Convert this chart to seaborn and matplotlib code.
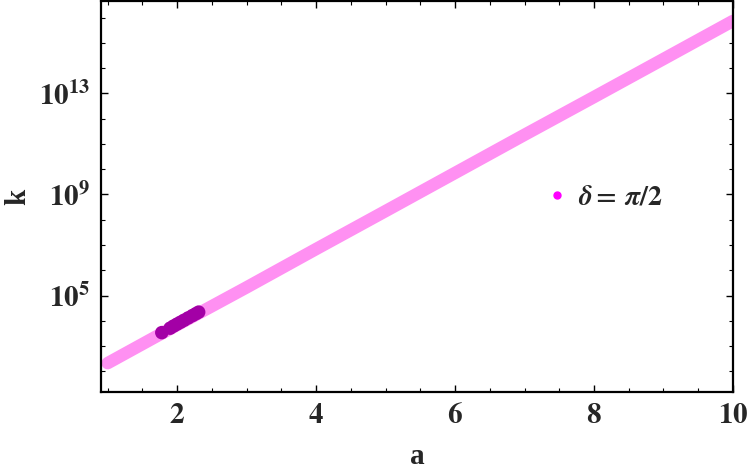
import numpy as np
import pandas as pd
import matplotlib
matplotlib.use("Agg")
import matplotlib.pyplot as plt
import matplotlib.ticker as mticker
from matplotlib.lines import Line2D
import seaborn as sns

sns.set_theme(style="ticks")
plt.rcParams['font.family'] = ['Liberation Serif', 'DejaVu Serif']
plt.rcParams['mathtext.fontset'] = 'stix'

# pink band
a_all = [1, 2, 3, 4, 5, 6, 7, 8, 9, 10]
k_all = [2.1e2, 6.8e3, 2.1e5, 6.9e6, 2.2e8, 7.1e9, 2.3e11, 7.2e12, 2.3e14, 7.4e15]

# dark purple points
a_dark = [1.78, 1.90, 1.95, 2.00, 2.05, 2.10, 2.16, 2.22, 2.27, 2.31]
k_dark = [3.4e3, 5.1e3, 6.2e3, 7.4e3, 8.8e3, 1.05e4, 1.3e4, 1.6e4, 1.9e4, 2.2e4]

legend_label = r'$\mathbfit{\delta}\mathbf{=}\,\mathbfit{\pi}\mathbf{/2}$'

pink = '#FF90F2'
dark = '#A300A6'
magenta = '#FF00FF'

df_all = pd.DataFrame({'a': a_all, 'k': k_all})
df_dark = pd.DataFrame({'a': a_dark, 'k': k_dark})

fig = plt.figure(figsize=(7.5, 4.71), dpi=100)
ax = fig.add_axes([0.1347, 0.1677, 0.8426, 0.8303])

sns.lineplot(data=df_all, x='a', y='k', color=pink, linewidth=9,
             solid_capstyle='round', ax=ax)
sns.scatterplot(data=df_dark, x='a', y='k', color=dark, s=95,
                edgecolor='none', ax=ax, zorder=3)

ax.set_yscale('log')
ax.set_xlim(0.905, 10)
ax.set_ylim(10**1.18, 10**16.66)

ax.xaxis.set_major_locator(mticker.FixedLocator([2, 4, 6, 8, 10]))
ax.xaxis.set_minor_locator(mticker.MultipleLocator(0.5))
ax.yaxis.set_major_locator(mticker.FixedLocator([10.0**e for e in (1, 5, 9, 13, 17)]))
ax.yaxis.set_minor_locator(mticker.FixedLocator([10.0**e for e in range(0, 18)]))
ax.yaxis.set_minor_formatter(mticker.NullFormatter())
ax.xaxis.set_major_formatter(mticker.FuncFormatter(lambda v, p: r'$\mathbf{%d}$' % v))
ax.yaxis.set_major_formatter(mticker.FuncFormatter(
    lambda v, p: r'$\mathbf{10^{%d}}$' % round(np.log10(v))))

ax.tick_params(which='both', direction='in', top=True, right=True,
               color='black', labelsize=21)
ax.tick_params(which='major', length=5, width=1.0, pad=8)
ax.tick_params(which='minor', length=3, width=0.8)
for s in ax.spines.values():
    s.set_color('black')
    s.set_linewidth(1.6)

ax.set_xlabel('a', fontsize=21, fontweight='bold', labelpad=10)
ax.set_ylabel('k', fontsize=21, fontweight='bold', labelpad=5)

handle = Line2D([], [], linestyle='none', marker='o', markersize=5,
                color=magenta)
ax.legend([handle], [legend_label], loc='center left',
          bbox_to_anchor=(0.687, 0.497), frameon=False, fontsize=20,
          handlelength=0.6, handletextpad=0.45, borderpad=0)

fig.savefig('out.png', dpi=100)
